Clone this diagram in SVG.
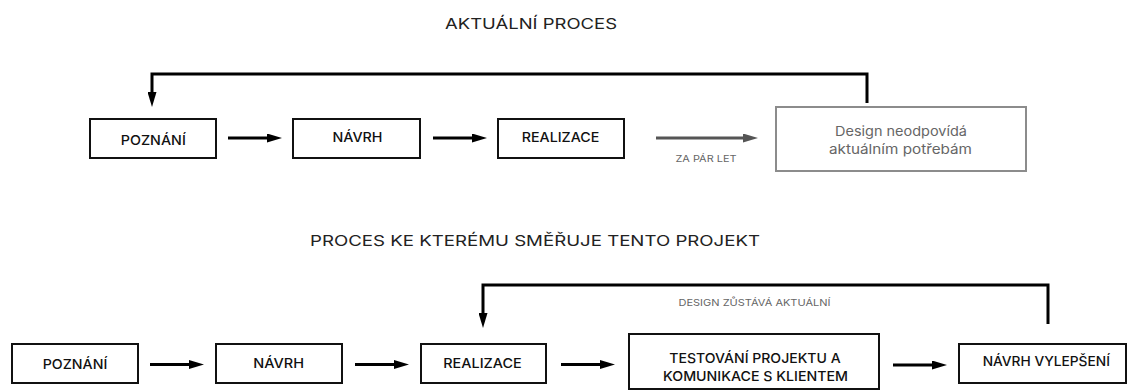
<svg xmlns="http://www.w3.org/2000/svg" width="1128" height="392" viewBox="0 0 1128 392">
<style>
text{font-family:Inter,"DejaVu Sans","Liberation Sans",sans-serif;}
.title{font-size:15px;fill:#222;}
.lbl{font-size:13.5px;font-weight:500;fill:#111;text-anchor:middle;}
.glbl{font-size:13.5px;fill:#666;text-anchor:middle;}
.small{font-size:9.5px;fill:#666;text-anchor:middle;}
.box{fill:#fff;stroke:#111;stroke-width:2;}
.gbox{fill:#fff;stroke:#8c8c8c;stroke-width:2;}
.arr{stroke:#000;stroke-width:3;fill:none;}
.garr{stroke:#555;stroke-width:3;fill:none;}
.fb{stroke:#000;stroke-width:3;fill:none;}
</style>
<defs>
<marker id="ah" markerUnits="userSpaceOnUse" markerWidth="15" markerHeight="9" refX="3" refY="4.5" orient="auto">
<path d="M0,0 L15,4.5 L0,9 z" fill="#000"/>
</marker>
<marker id="gah" markerUnits="userSpaceOnUse" markerWidth="15" markerHeight="9" refX="3" refY="4.5" orient="auto">
<path d="M0,0 L15,4.5 L0,9 z" fill="#555"/>
</marker>
</defs>

<text class="title" x="617" y="29" text-anchor="end" textLength="172" lengthAdjust="spacingAndGlyphs">AKTUÁLNÍ PROCES</text>
<text class="title" x="760" y="246" text-anchor="end" textLength="450" lengthAdjust="spacingAndGlyphs">PROCES KE KTERÉMU SMĚŘUJE TENTO PROJEKT</text>

<g id="connectors">
<path class="fb" d="M867,103 V74 H152 V95" marker-end="url(#ah)"/>
<line class="arr" x1="228" y1="138" x2="270" y2="138" marker-end="url(#ah)"/>
<line class="arr" x1="433" y1="138" x2="475" y2="138" marker-end="url(#ah)"/>
<line class="garr" x1="656" y1="138" x2="746" y2="138" marker-end="url(#gah)"/>
<text class="small" x="706" y="161.5" textLength="61" lengthAdjust="spacingAndGlyphs">ZA PÁR LET</text>

<path class="fb" d="M1048,324 V285 H483 V316" marker-end="url(#ah)"/>
<text class="small" x="754.5" y="306.3" textLength="152" lengthAdjust="spacingAndGlyphs">DESIGN ZŮSTÁVÁ AKTUÁLNÍ</text>
<line class="arr" x1="150" y1="364.5" x2="192" y2="364.5" marker-end="url(#ah)"/>
<line class="arr" x1="355" y1="364.5" x2="397" y2="364.5" marker-end="url(#ah)"/>
<line class="arr" x1="561" y1="364.5" x2="603" y2="364.5" marker-end="url(#ah)"/>
<line class="arr" x1="893" y1="365" x2="935" y2="365" marker-end="url(#ah)"/>
</g>

<g id="top-poznani">
<rect class="box" x="90" y="119" width="126" height="39"/>
<text class="lbl" x="153.3" y="145" textLength="65" lengthAdjust="spacingAndGlyphs">POZNÁNÍ</text>
</g>
<g id="top-navrh">
<rect class="box" x="293" y="119" width="127" height="39"/>
<text class="lbl" x="357.5" y="141.7" textLength="50" lengthAdjust="spacingAndGlyphs">NÁVRH</text>
</g>
<g id="top-realizace">
<rect class="box" x="498" y="119" width="126" height="39"/>
<text class="lbl" x="560.5" y="141.7" textLength="77.5" lengthAdjust="spacingAndGlyphs">REALIZACE</text>
</g>
<g id="top-design">
<rect class="gbox" x="776" y="107" width="250" height="64"/>
<text class="glbl" x="901" y="136" textLength="132" lengthAdjust="spacingAndGlyphs">Design neodpovídá</text>
<text class="glbl" x="900.5" y="154" textLength="143" lengthAdjust="spacingAndGlyphs">aktuálním potřebám</text>
</g>

<g id="bottom-poznani">
<rect class="box" x="12" y="344" width="126" height="39"/>
<text class="lbl" x="75" y="369.3" textLength="64.6" lengthAdjust="spacingAndGlyphs">POZNÁNÍ</text>
</g>
<g id="bottom-navrh">
<rect class="box" x="216" y="344" width="126" height="39"/>
<text class="lbl" x="278.7" y="367.7" textLength="50.7" lengthAdjust="spacingAndGlyphs">NÁVRH</text>
</g>
<g id="bottom-realizace">
<rect class="box" x="421" y="344" width="125" height="39"/>
<text class="lbl" x="482.5" y="368.3" textLength="78.4" lengthAdjust="spacingAndGlyphs">REALIZACE</text>
</g>
<g id="bottom-testovani">
<rect class="box" x="629" y="334" width="250" height="55"/>
<text class="lbl" x="755" y="362.7" textLength="171.3" lengthAdjust="spacingAndGlyphs">TESTOVÁNÍ PROJEKTU A</text>
<text class="lbl" x="755.5" y="381" textLength="185" lengthAdjust="spacingAndGlyphs">KOMUNIKACE S KLIENTEM</text>
</g>
<g id="bottom-vylepseni">
<rect class="box" x="959" y="344" width="167" height="39"/>
<text class="lbl" x="1046.3" y="366.3" textLength="127.3" lengthAdjust="spacingAndGlyphs">NÁVRH VYLEPŠENÍ</text>
</g>
</svg>
